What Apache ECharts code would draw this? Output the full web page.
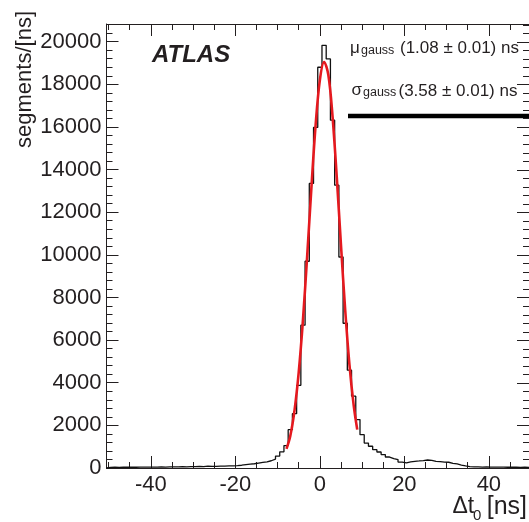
<!DOCTYPE html>
<html>
<head>
<meta charset="utf-8">
<script src="https://cdn.jsdelivr.net/npm/echarts@6/dist/echarts.min.js"></script>
<style>html,body{margin:0;padding:0;background:#fff;overflow:hidden}#c{width:529px;height:522px}</style>
</head>
<body>
<div id="c"></div>
<script>
// ---- data ----
const binStart = -50.5;   // left edge of first bin (ns)
const binWidth = 1;       // ns
// segments per bin, bins centred on -50 ... 49
const counts = [
  30, 35, 30, 40, 35, 40, 35, 45, 40, 40,
  45, 45, 50, 45, 55, 50, 55, 60, 55, 60,
  65, 70, 65, 85, 75, 80, 90, 85, 95, 100,
  110, 130, 160, 180, 200, 230, 260, 290, 340, 420,
  560, 760, 1050, 1800, 2550, 3880, 6700, 9700, 13350, 15980,
  18800, 19830, 19190, 16320, 13270, 9900, 6790, 4590, 3370, 2270,
  1565, 1170, 1020, 860, 750, 630, 515, 440, 395, 280,
  235, 290, 315, 330, 350, 375, 360, 315, 300, 280,
  270, 220, 190, 140, 95, 65, 55, 50, 45, 50,
  45, 40, 45, 40, 35, 40, 35, 30, 35, 30
];
// gaussian fit curve
const fitX = [-7.9, -7, -6, -5, -4, -3, -2, -1, 0, 1, 2, 3, 4, 5, 6, 7, 8, 8.85];
const fitY = [900, 1500, 2700, 4500, 6950, 9950, 13150, 16100, 18200, 19050, 18450, 16500, 13650, 10450, 7400, 4850, 2950, 1800];

const xMin = -50.5, xMax = 49.5, yMin = 0, yMax = 20830;
const xMajorTicks = [-40, -20, 0, 20, 40];
const xMinorTicks = [-50, -45, -35, -30, -25, -15, -10, -5, 5, 10, 15, 25, 30, 35, 45];
const yMajorTicks = [0, 2000, 4000, 6000, 8000, 10000, 12000, 14000, 16000, 18000, 20000];
const yMinorTicks = [400, 800, 1200, 1600, 2400, 2800, 3200, 3600, 4400, 4800, 5200, 5600,
  6400, 6800, 7200, 7600, 8400, 8800, 9200, 9600, 10400, 10800, 11200, 11600,
  12400, 12800, 13200, 13600, 14400, 14800, 15200, 15600, 16400, 16800, 17200, 17600,
  18400, 18800, 19200, 19600, 20400, 20800];

const yTitle = 'segments/[ns]';
const muText = ['μ', 'gauss', '(1.08 ± 0.01) ns'];
const sigmaText = ['σ', 'gauss', '(3.58 ± 0.01) ns'];

// ---- build series data ----
const histData = [[binStart, 0]];
for (let i = 0; i < counts.length; i++) histData.push([binStart + i * binWidth, counts[i]]);
histData.push([binStart + counts.length * binWidth, counts[counts.length - 1]]);
const fitData = fitX.map((x, i) => [x, fitY[i]]);

const INK = '#231f20';
const FONT = '"Liberation Sans", Arial, Helvetica, sans-serif';
const plain = v => String(v);

function xAx(pos, ticks, len, showLabel, showLine) {
  return {
    type: 'value', min: xMin, max: xMax, position: pos, gridIndex: 0,
    axisLine: { show: showLine, onZero: false, lineStyle: { color: INK, width: 1 } },
    axisTick: { show: true, inside: true, length: len, customValues: ticks, lineStyle: { color: INK, width: 1 } },
    axisLabel: { show: showLabel, customValues: ticks, formatter: plain, fontSize: 22, color: INK, fontFamily: FONT, margin: 6 },
    splitLine: { show: false }, minorTick: { show: false }, minorSplitLine: { show: false }
  };
}
function yAx(pos, ticks, len, showLabel, showLine) {
  return {
    type: 'value', min: yMin, max: yMax, position: pos, gridIndex: 0,
    axisLine: { show: showLine, onZero: false, lineStyle: { color: INK, width: 1 } },
    axisTick: { show: true, inside: true, length: len, customValues: ticks, lineStyle: { color: INK, width: 1 } },
    axisLabel: { show: showLabel, customValues: ticks, formatter: plain, fontSize: 22, color: INK, fontFamily: FONT, margin: 5 },
    splitLine: { show: false }, minorTick: { show: false }, minorSplitLine: { show: false }
  };
}

const txt = (x, y, text, font, align) => ({
  type: 'text', x: x, y: y,
  style: { text: text, font: font + ' ' + FONT, fill: INK, align: align || 'left', verticalAlign: 'middle', textAlign: align || 'left', textVerticalAlign: 'middle' }
});

const staticGraphics = [
  txt(152, 55, 'ATLAS', 'italic bold 24px'),
  txt(350, 48, muText[0], '17px'),
  txt(361, 51, muText[1], '12.5px'),
  txt(400, 48, muText[2], '17px'),
  txt(351.5, 90, sigmaText[0], '17px'),
  txt(363, 93, sigmaText[1], '12.5px'),
  txt(398.5, 91, sigmaText[2], '17px'),
  { type: 'line', shape: { x1: 348, y1: 116, x2: 529, y2: 116 }, style: { stroke: '#000', lineWidth: 4.5 } },
  { type: 'text', x: 25, y: 11, rotation: Math.PI / 2, style: { text: yTitle, font: '22px ' + FONT, fill: INK, align: 'right', verticalAlign: 'middle', textAlign: 'right', textVerticalAlign: 'middle' } },
  txt(452.5, 507, 'Δt', '23px'),
  txt(473, 516, '0', '15px'),
  txt(527, 507, '[ns]', '25px', 'right')
];

const chart = echarts.init(document.getElementById('c'), null, { renderer: 'canvas' });
chart.setOption({
  animation: false,
  backgroundColor: '#fff',
  grid: { left: 106.5, right: 0, top: 24, bottom: 54, containLabel: false },
  xAxis: [
    xAx('bottom', xMajorTicks, 12, true, true),
    xAx('bottom', xMinorTicks, 6, false, false),
    xAx('top', xMajorTicks, 12, false, true),
    xAx('top', xMinorTicks, 6, false, false)
  ],
  yAxis: [
    yAx('left', yMajorTicks, 12, true, true),
    yAx('left', yMinorTicks, 6, false, false)
  ],
  series: [
    {
      type: 'line', xAxisIndex: 0, yAxisIndex: 0, step: 'end', data: histData,
      symbol: 'none', lineStyle: { color: '#111', width: 1.3 }, z: 2
    },
    {
      type: 'line', xAxisIndex: 0, yAxisIndex: 0, smooth: 0.35, data: fitData,
      symbol: 'none', lineStyle: { color: '#e5191f', width: 2.6 }, z: 3
    }
  ],
  graphic: staticGraphics
});

// mirrored tick marks on the right frame edge, positioned through the y axis scale
const rightEdge = chart.convertToPixel({ xAxisIndex: 0 }, xMax);
const rightTicks = [];
yMajorTicks.forEach(v => {
  const py = Math.round(chart.convertToPixel({ yAxisIndex: 0 }, v)) + 0.5;
  rightTicks.push({ type: 'line', shape: { x1: rightEdge - 12, y1: py, x2: rightEdge, y2: py }, style: { stroke: INK, lineWidth: 1 } });
});
yMinorTicks.forEach(v => {
  const py = Math.round(chart.convertToPixel({ yAxisIndex: 0 }, v)) + 0.5;
  rightTicks.push({ type: 'line', shape: { x1: rightEdge - 6, y1: py, x2: rightEdge, y2: py }, style: { stroke: INK, lineWidth: 1 } });
});
chart.setOption({ graphic: staticGraphics.concat(rightTicks) });
</script>
</body>
</html>
